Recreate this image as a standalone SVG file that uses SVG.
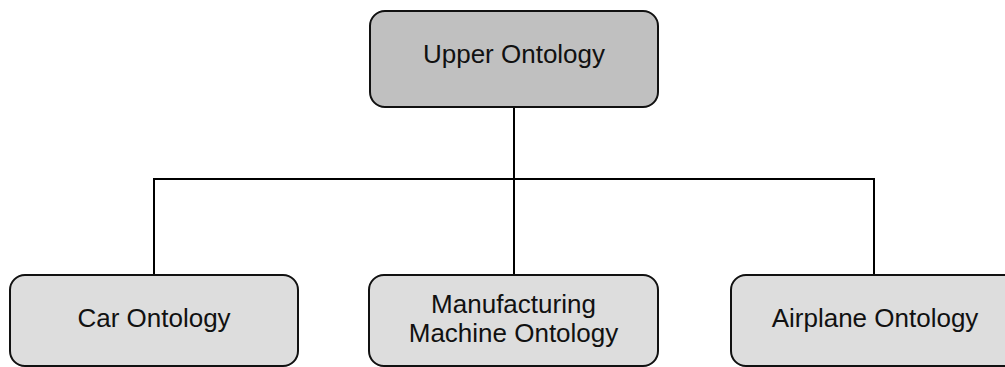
<svg xmlns="http://www.w3.org/2000/svg" width="1005" height="367" viewBox="0 0 1005 367">
<style>
.box{stroke:#111;stroke-width:2}
.top{fill:#c0c0c0}
.leaf{fill:#dddddd}
.lbl{font-family:"Liberation Sans",Arial,sans-serif;font-size:26px;fill:#111;text-anchor:middle}
.conn{fill:none;stroke:#000;stroke-width:2}
</style>
<rect width="1005" height="367" fill="#fff"/>
<g id="connectors">
<path class="conn" d="M514,107 V275"/>
<path class="conn" d="M154,275 V179 H874 V275"/>
</g>
<g id="upper">
<rect class="box top" x="370" y="11" width="288" height="96" rx="15"/>
<text class="lbl" x="514" y="63">Upper Ontology</text>
</g>
<g id="car">
<rect class="box leaf" x="10" y="275" width="288" height="91" rx="15"/>
<text class="lbl" x="154" y="327">Car Ontology</text>
</g>
<g id="manufacturing">
<rect class="box leaf" x="369" y="275" width="289" height="91" rx="15"/>
<text class="lbl" x="513.5" y="313">Manufacturing</text>
<text class="lbl" x="513.5" y="342">Machine Ontology</text>
</g>
<g id="airplane">
<rect class="box leaf" x="731" y="275" width="288" height="91" rx="15"/>
<text class="lbl" x="875" y="327">Airplane Ontology</text>
</g>
</svg>
